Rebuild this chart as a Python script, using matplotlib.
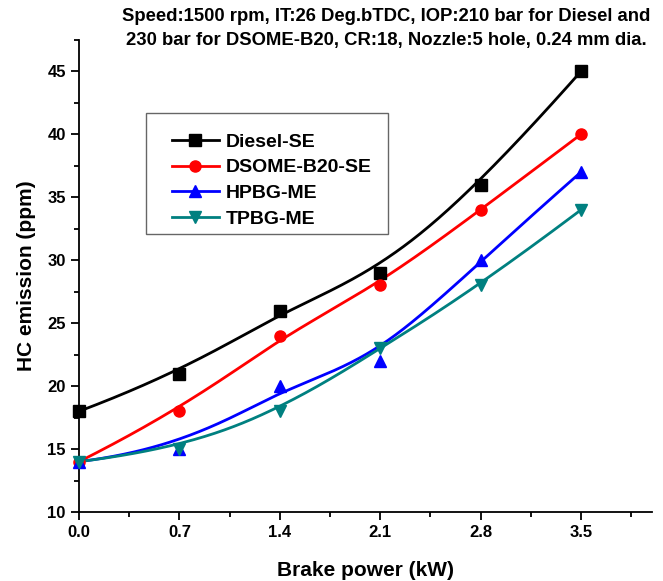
import numpy as np
import matplotlib
matplotlib.use("Agg")
import matplotlib.pyplot as plt
from matplotlib.patches import Rectangle
from matplotlib.ticker import MultipleLocator, FormatStrFormatter

plt.rcParams['font.family'] = ['Liberation Sans', 'DejaVu Sans']
plt.rcParams['font.weight'] = 'bold'

brake_power = [0.0, 0.7, 1.4, 2.1, 2.8, 3.5]
diesel_se = [18, 21, 26, 29, 36, 45]
dsome_b20_se = [14, 18, 24, 28, 34, 40]
hpbg_me = [14, 15, 20, 22, 30, 37]
tpbg_me = [14, 15, 18, 23, 28, 34]

series = [
    ("Diesel-SE", diesel_se, "black", "s"),
    ("DSOME-B20-SE", dsome_b20_se, "red", "o"),
    ("HPBG-ME", hpbg_me, "blue", "^"),
    ("TPBG-ME", tpbg_me, "#008080", "v"),
]


def bspline(px, py, n=300):
    # clamped cubic B-spline using the data points as control points
    pts = np.column_stack([px, py]).astype(float)
    k = 3
    m = len(pts)
    inner = np.arange(1, m - k)
    knots = np.concatenate([[0] * (k + 1), inner, [m - k] * (k + 1)]).astype(float)
    ts = np.linspace(0, m - k, n)
    out = []
    for t in ts:
        s = int(min(np.searchsorted(knots, t, side='right') - 1, m - 1))
        d = [pts[j].copy() for j in range(s - k, s + 1)]
        for r in range(1, k + 1):
            for j in range(k, r - 1, -1):
                i = j + s - k
                a = (t - knots[i]) / (knots[i + k + 1 - r] - knots[i])
                d[j] = (1 - a) * d[j - 1] + a * d[j]
        out.append(d[k])
    out = np.array(out)
    return out[:, 0], out[:, 1]


W, H = 663, 581
fig = plt.figure(figsize=(W / 100, H / 100), dpi=100)
ax = fig.add_axes([79 / W, 1 - 512 / H, (652 - 79) / W, (512 - 40) / H])

for name, vals, col, mk in series:
    sx, sy = bspline(brake_power, vals)
    ax.plot(sx, sy, color=col, lw=2.0, zorder=2)
    ax.plot(brake_power, vals, ls='none', marker=mk, color=col, ms=8, zorder=3,
            clip_on=False)
    ax.plot([], [], color=col, lw=2.0, marker=mk, ms=8, label=name)

ax.set_xlim(0, 3.996)
ax.set_ylim(10, 47.5)
ax.xaxis.set_major_locator(MultipleLocator(0.7))
ax.xaxis.set_minor_locator(MultipleLocator(0.35))
ax.yaxis.set_major_locator(MultipleLocator(5))
ax.yaxis.set_minor_locator(MultipleLocator(2.5))
ax.xaxis.set_major_formatter(FormatStrFormatter('%.1f'))

for s in ['top', 'right']:
    ax.spines[s].set_visible(False)
for s in ['left', 'bottom']:
    ax.spines[s].set_linewidth(1.3)
ax.tick_params(which='major', direction='out', length=6, width=1.3, labelsize=12)
ax.tick_params(which='minor', direction='out', length=3.5, width=1.3)
for lbl in ax.get_xticklabels() + ax.get_yticklabels():
    lbl.set_fontweight('bold')

ax.set_xlabel("Brake power (kW)", fontsize=15, fontweight='bold', labelpad=15)
ax.set_ylabel("HC emission (ppm)", fontsize=15, fontweight='bold', labelpad=8)

fig.text(0.582, 0.951, "Speed:1500 rpm, IT:26 Deg.bTDC, IOP:210 bar for Diesel and\n"
         "230 bar for DSOME-B20, CR:18, Nozzle:5 hole, 0.24 mm dia.",
         ha='center', va='center', fontsize=13.3, fontweight='bold', linespacing=1.6)

# legend frame drawn separately, entries placed inside it
fig.patches.append(Rectangle((146 / W, 1 - 234 / H), (388 - 146) / W, (234 - 113) / H,
                             transform=fig.transFigure, fill=False,
                             edgecolor='#666666', lw=1.0, zorder=5))
leg = ax.legend(loc='upper left', bbox_to_anchor=(172 / W, 1 - 133 / H),
                bbox_transform=fig.transFigure, borderaxespad=0, borderpad=0,
                frameon=False, fontsize=14, handlelength=2.4,
                labelspacing=0.42, handletextpad=0.35)
for t in leg.get_texts():
    t.set_fontweight('bold')

fig.savefig("out.png", dpi=100)
